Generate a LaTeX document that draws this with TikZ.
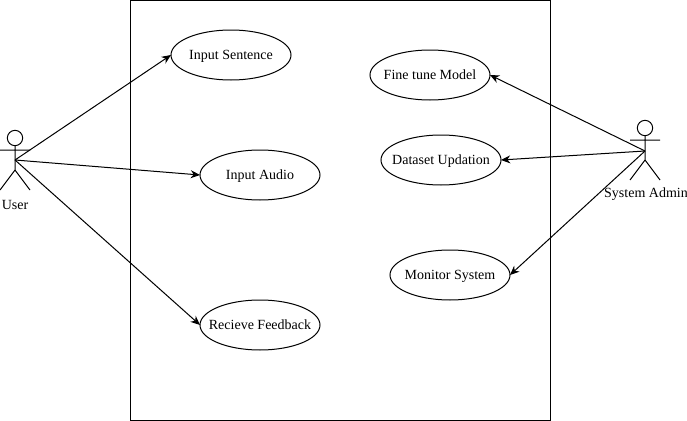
\documentclass[tikz,border=0pt]{standalone}
\usepackage{fontspec}
\setmainfont{Liberation Serif}
\usetikzlibrary{shapes.geometric,arrows.meta}
\newcommand{\uctext}[1]{\makebox[0pt]{\smash{\raisebox{-3.2pt}{#1}}}}
\tikzset{
 uc/.style={draw=black,fill=white,ellipse,minimum width=90pt,minimum height=37.5pt,inner sep=0pt,outer sep=0pt,font=\fontsize{10.5pt}{12pt}\selectfont,line width=0.75pt},
 lbl/.style={inner sep=0pt,font=\fontsize{10.5pt}{12pt}\selectfont},
 conn/.style={-{Stealth[length=7pt,width=6pt]},line width=0.75pt,black},
 stick/.style={line width=0.75pt,black},
}
\begin{document}
\begin{tikzpicture}[x=0.75pt,y=-0.75pt]
\useasboundingbox (0,0) rectangle (687,421);
\draw[line width=0.75pt] (130.5,0.5) rectangle (550.5,420.5);
\node[uc] (a) at (231,55) {\uctext{Input Sentence}};
\node[uc] (b) at (260,175) {\uctext{Input Audio}};
\node[uc] (c) at (260,325) {\uctext{Recieve Feedback}};
\node[uc] (d) at (430,75) {\uctext{Fine tune Model}};
\node[uc] (e) at (441,160) {\uctext{Dataset Updation}};
\node[uc] (f) at (450,275) {\uctext{Monitor System}};
% user
\coordinate (u) at (15,160);
\node[draw,circle,minimum size=11.5pt,inner sep=0pt,line width=0.75pt] (uh) at (15,138) {};
\draw[stick] (uh.south) -- (15,170) (0,150) -- (30,150) (15,170) -- (0,190) (15,170) -- (30,190);
\node[lbl] (ul) at (15,204.5) {User};
% admin
\coordinate (s) at (645,151);
\node[draw,circle,minimum size=11.5pt,inner sep=0pt,line width=0.75pt] (sh) at (645,128) {};
\draw[stick] (sh.south) -- (645,160) (630,140) -- (660,140) (645,160) -- (630,180) (645,160) -- (660,180);
\node[lbl] (sl) at (646,194) {System Admin};
\draw[conn] (u) -- (a.west);
\draw[conn] (u) -- (b.west);
\draw[conn] (u) -- (c.west);
\draw[conn] (s) -- (d.east);
\draw[conn] (s) -- (e.east);
\draw[conn] (s) -- (f.east);
\end{tikzpicture}
\end{document}
